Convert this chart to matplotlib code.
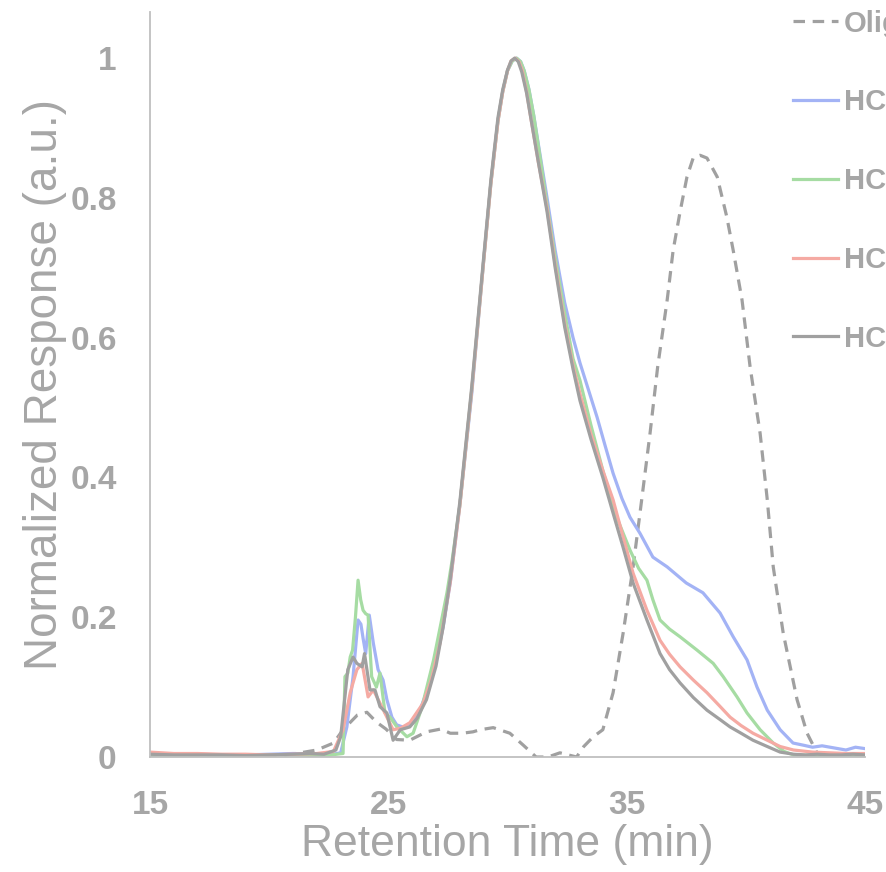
import matplotlib
matplotlib.use("Agg")
import matplotlib.pyplot as plt

# ---- data ----
labels = ["Oligomer", "HC-1", "HC-2", "HC-3", "HC-4"]

oligo_t = [15, 17, 19, 20.5, 21.3, 22.0, 22.7, 23.1, 23.7, 24.1, 24.5, 24.9, 25.35, 25.9,
           26.6, 27.2, 27.6, 28.1, 28.55, 28.85, 29.4, 30.1, 30.66, 31.2, 31.7, 32.2, 32.9,
           33.2, 33.6, 34.0, 34.43, 34.85, 35.27, 35.63, 35.98, 36.3, 36.7, 36.95, 37.24,
           37.53, 37.8, 38.08, 38.37, 38.8, 39.2, 39.47, 39.84, 40.18, 40.6, 40.9, 41.15,
           41.57, 42.15, 42.57, 43.0, 44.0, 45]
oligo_y = [0.0, 0.0, 0.001, 0.002, 0.006, 0.01, 0.02, 0.039, 0.06, 0.064, 0.05, 0.04, 0.025, 0.024,
           0.036, 0.04, 0.034, 0.034, 0.036, 0.039, 0.042, 0.034, 0.017, 0.0, 0.0, 0.006, 0.0,
           0.015, 0.029, 0.039, 0.092, 0.177, 0.272, 0.368, 0.463, 0.558, 0.654, 0.725, 0.78,
           0.83, 0.858, 0.861, 0.857, 0.83, 0.773, 0.725, 0.654, 0.558, 0.463, 0.368, 0.272,
           0.177, 0.082, 0.034, 0.005, 0.0, 0.0]

blue_t = [15, 16, 17, 18, 19, 20, 21, 22, 22.5, 23.0, 23.26, 23.52, 23.73, 23.85, 23.94, 24.05,
          24.2, 24.37, 24.57, 24.78, 24.94, 25.15, 25.35, 25.6, 25.8, 26.04, 26.3, 26.6, 27.0,
          27.3, 27.6, 28.0, 28.5, 29.0, 29.3, 29.6, 29.8, 30.0, 30.2, 30.38, 30.55, 30.7, 30.9,
          31.1, 31.35, 31.66, 32.0, 32.4, 32.75, 33.04, 33.4, 33.76, 34.1, 34.43, 34.8, 35.14,
          35.56, 36.1, 36.7, 37.5, 38.2, 38.92, 39.47, 40.05, 40.47, 40.9, 41.44, 41.98, 42.4,
          42.8, 43.2, 43.7, 44.2, 44.6, 45]
blue_y = [0.004, 0.003, 0.004, 0.003, 0.003, 0.004, 0.005, 0.004, 0.003, 0.006, 0.043, 0.115,
          0.196, 0.19, 0.17, 0.148, 0.203, 0.163, 0.125, 0.11, 0.082, 0.057, 0.046, 0.043, 0.044,
          0.049, 0.065, 0.092, 0.14, 0.186, 0.25, 0.36, 0.52, 0.71, 0.82, 0.91, 0.952, 0.982,
          0.996, 1.0, 0.995, 0.982, 0.955, 0.918, 0.865, 0.80, 0.725, 0.65, 0.6, 0.564, 0.525,
          0.486, 0.445, 0.406, 0.37, 0.343, 0.32, 0.286, 0.272, 0.249, 0.235, 0.206, 0.172,
          0.139, 0.10, 0.067, 0.039, 0.02, 0.017, 0.014, 0.016, 0.013, 0.01, 0.014, 0.012]

green_t = [15, 16, 17, 18, 19, 20, 21, 22, 22.6, 23.1, 23.18, 23.3, 23.4, 23.5, 23.62, 23.73,
           23.84, 23.94, 24.05, 24.15, 24.3, 24.5, 24.65, 24.86, 25.07, 25.36, 25.78, 26.04,
           26.4, 26.9, 27.2, 27.46, 27.67, 28.0, 28.5, 29.0, 29.3, 29.6, 29.8, 30.0, 30.2,
           30.38, 30.55, 30.7, 30.9, 31.1, 31.35, 31.66, 32.0, 32.4, 32.75, 33.04, 33.5, 34.0,
           34.5, 35.14, 35.5, 35.85, 36.1, 36.4, 36.8, 37.24, 37.95, 38.63, 39.05, 39.63, 40.05,
           40.6, 41.15, 41.6, 42.0, 43.0, 44.0, 45]
green_y = [0.003, 0.002, 0.003, 0.002, 0.002, 0.003, 0.003, 0.002, 0.003, 0.005, 0.115, 0.12,
           0.143, 0.153, 0.2, 0.253, 0.225, 0.21, 0.205, 0.203, 0.115, 0.1, 0.12, 0.063, 0.057,
           0.043, 0.029, 0.034, 0.07, 0.139, 0.19, 0.235, 0.28, 0.36, 0.525, 0.71, 0.82, 0.91,
           0.952, 0.982, 0.996, 1.0, 0.995, 0.982, 0.955, 0.918, 0.862, 0.79, 0.715, 0.635,
           0.57, 0.539, 0.475, 0.41, 0.35, 0.296, 0.27, 0.253, 0.225, 0.196, 0.183, 0.172,
           0.153, 0.134, 0.115, 0.086, 0.063, 0.039, 0.02, 0.008, 0.003, 0.002, 0.002, 0.002]

red_t = [15, 16, 17, 18, 19, 20, 21, 22, 22.7, 23.1, 23.4, 23.68, 23.9, 24.0, 24.15, 24.37,
         24.65, 24.94, 25.2, 25.5, 25.9, 26.46, 26.8, 27.17, 27.6, 28.0, 28.5, 29.0, 29.3, 29.6,
         29.8, 30.0, 30.15, 30.32, 30.48, 30.62, 30.8, 31.0, 31.3, 31.66, 32.0, 32.4, 32.75,
         33.04, 33.5, 34.0, 34.43, 34.85, 35.27, 35.85, 36.4, 36.8, 37.24, 37.8, 38.37, 38.9,
         39.34, 39.8, 40.3, 40.9, 41.44, 42.0, 42.8, 43.5, 44.2, 45]
red_y = [0.007, 0.005, 0.005, 0.004, 0.004, 0.003, 0.004, 0.005, 0.008, 0.039, 0.092, 0.125,
         0.134, 0.115, 0.086, 0.096, 0.077, 0.057, 0.039, 0.041, 0.049, 0.077, 0.11, 0.163, 0.25,
         0.36, 0.525, 0.71, 0.82, 0.91, 0.952, 0.982, 0.996, 1.0, 0.995, 0.982, 0.952, 0.91,
         0.85, 0.785, 0.705, 0.62, 0.56, 0.52, 0.462, 0.41, 0.368, 0.315, 0.263, 0.21, 0.167,
         0.147, 0.129, 0.11, 0.092, 0.073, 0.057, 0.045, 0.034, 0.024, 0.015, 0.01, 0.007,
         0.006, 0.005, 0.005]

gray_t = [15, 16, 17, 18, 19, 20, 21, 21.7, 22.3, 22.8, 23.0, 23.3, 23.52, 23.68, 23.9, 24.0,
          24.23, 24.44, 24.65, 24.94, 25.2, 25.5, 25.9, 26.2, 26.6, 27.0, 27.3, 27.6, 28.0,
          28.5, 29.0, 29.3, 29.6, 29.8, 30.0, 30.15, 30.3, 30.45, 30.6, 30.8, 31.0, 31.3,
          31.66, 32.0, 32.4, 32.75, 33.04, 33.5, 34.0, 34.43, 34.85, 35.27, 35.85, 36.4, 36.8,
          37.24, 37.8, 38.37, 38.9, 39.34, 39.8, 40.3, 40.9, 41.44, 42.0, 42.5, 43.0, 43.5,
          44.0, 44.5, 45]
gray_y = [0.004, 0.003, 0.003, 0.003, 0.002, 0.003, 0.004, 0.005, 0.004, 0.01, 0.029, 0.125,
          0.143, 0.134, 0.129, 0.148, 0.096, 0.096, 0.072, 0.063, 0.024, 0.039, 0.043, 0.055,
          0.082, 0.13, 0.186, 0.255, 0.365, 0.53, 0.715, 0.825, 0.915, 0.955, 0.983, 0.996,
          1.0, 0.995, 0.98, 0.95, 0.91, 0.85, 0.78, 0.70, 0.615, 0.555, 0.51, 0.455, 0.40,
          0.349, 0.30, 0.249, 0.196, 0.148, 0.125, 0.106, 0.085, 0.067, 0.054, 0.043, 0.034,
          0.024, 0.015, 0.007, 0.004, 0.003, 0.004, 0.003, 0.003, 0.004, 0.003]

x_ticks = [15, 25, 35, 45]
y_ticks = [0, 0.2, 0.4, 0.6, 0.8, 1]
y_ticklabels = ["0", "0.2", "0.4", "0.6", "0.8", "1"]

TXT = "#a6a6a6"
plt.rcParams["font.family"] = ["Liberation Sans", "DejaVu Sans"]

fig = plt.figure(figsize=(8.87, 8.72), dpi=100)
ax = fig.add_axes([150 / 887, 115 / 872, 715 / 887, 745 / 872])

lw = 2.3
ax.plot(oligo_t, oligo_y, color="#a0a0a0", lw=lw, dashes=(3.6, 2.4), label=labels[0])
ax.plot(blue_t, blue_y, color="#a3b3f5", lw=lw, label=labels[1])
ax.plot(green_t, green_y, color="#a6dca3", lw=lw, label=labels[2])
ax.plot(red_t, red_y, color="#f5aaa3", lw=lw, label=labels[3])
ax.plot(gray_t, gray_y, color="#a0a0a0", lw=lw, label=labels[4])

ax.set_xlim(15, 45)
ax.set_ylim(0, 1.066)
ax.set_xticks(x_ticks)
ax.set_yticks(y_ticks, y_ticklabels)
ax.tick_params(length=0, pad=24, labelsize=24, labelcolor=TXT)
for t in ax.get_xticklabels() + ax.get_yticklabels():
    t.set_fontweight("bold")
for s in ["top", "right"]:
    ax.spines[s].set_visible(False)
for s in ["left", "bottom"]:
    ax.spines[s].set_color("#bfbfbf")
    ax.spines[s].set_linewidth(1.3)

ax.set_xlabel("Retention Time (min)", fontsize=32, color=TXT, labelpad=2)
ax.set_ylabel("Normalized Response (a.u.)", fontsize=33, color=TXT, labelpad=2)

leg = fig.legend(loc="upper left", bbox_to_anchor=(793 / 887, 0.989), frameon=False,
                 fontsize=21, handlelength=1.55, handletextpad=0.2, labelspacing=1.74,
                 borderpad=0, borderaxespad=0)
for t in leg.get_texts():
    t.set_color(TXT)
    t.set_fontweight("bold")

fig.savefig("out.png", dpi=100)
